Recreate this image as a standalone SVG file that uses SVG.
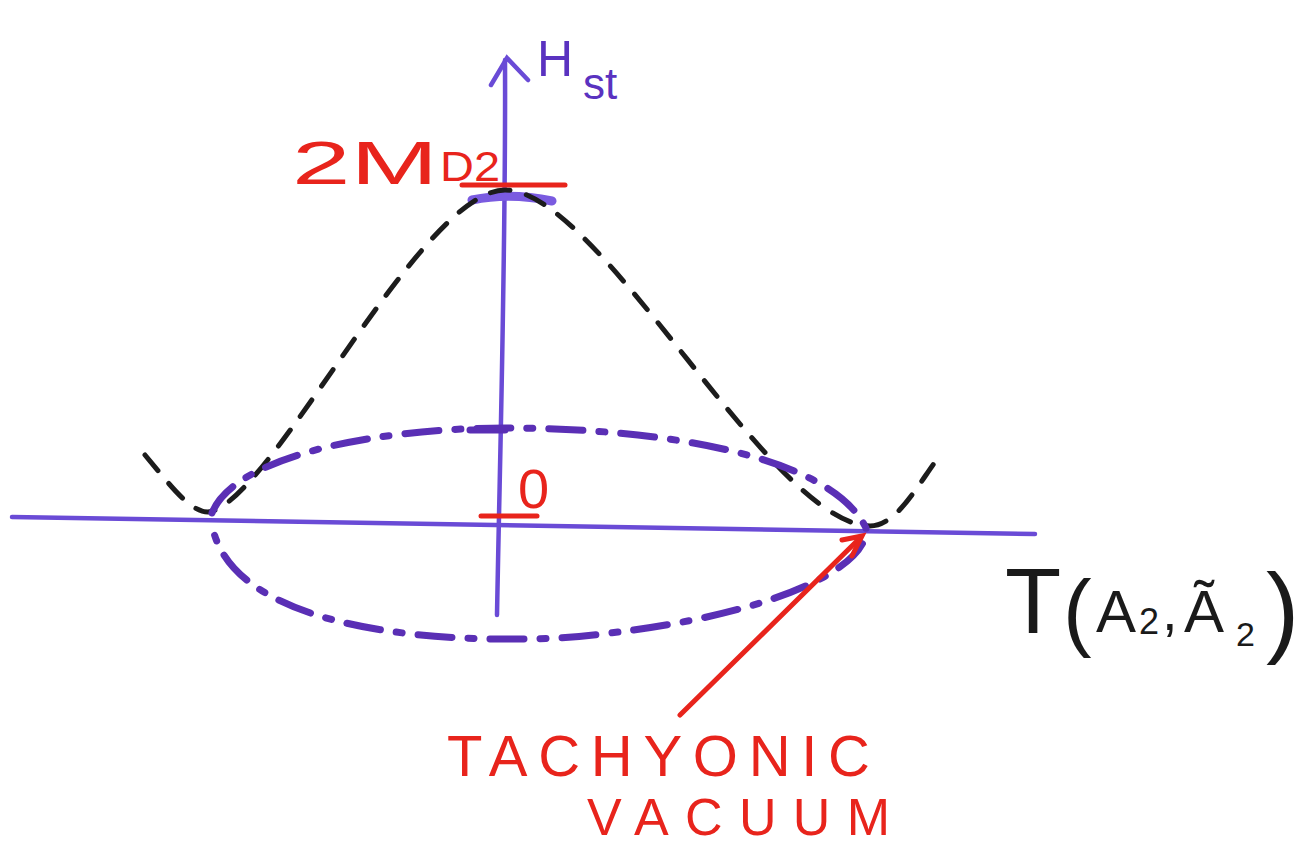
<svg xmlns="http://www.w3.org/2000/svg" width="1310" height="845" viewBox="0 0 1310 845">
<defs>
<style>
.axis{stroke:#6a4bd6;stroke-width:4.5;fill:none;stroke-linecap:round}
.pot{stroke:#1c1c1c;stroke-width:5;fill:none;stroke-dasharray:20 17;stroke-linecap:round}
.vac{stroke:#5a2fb5;stroke-width:7;fill:none;stroke-dasharray:34 16 6 16;stroke-linecap:round}
.red{stroke:#e8241c;stroke-width:5;fill:none;stroke-linecap:round}
.rt{fill:#e8241c;font-family:"Liberation Sans",Arial,sans-serif}
.pt{fill:#5a32c0;font-family:"Liberation Sans",Arial,sans-serif}
.bt{fill:#1a1a1a;font-family:"Liberation Sans",Arial,sans-serif}
</style>
</defs>
<rect width="1310" height="845" fill="#ffffff"/>
<g id="connectors">
<g id="axes">
<path class="axis" d="M12,517 L1035,534"/>
<path class="axis" d="M497,615 C500,450 506,250 505,60"/>
<path class="axis" d="M491,85 L507,58 L528,80"/>
<path d="M472,200 Q510,192 552,201" stroke="#7a5be0" stroke-width="9" fill="none" stroke-linecap="round"/>
<path d="M470,430 L505,430" stroke="#5a2fb5" stroke-width="7" stroke-linecap="round"/>
</g>
<path id="potential" class="pot" d="M145,455 C170,485 190,512 208,512 C270,505 420,190 505,190 C600,190 770,524 870,526 C895,526 915,490 935,462"/>
<path id="vacuum-curve" class="vac" d="M212,513 C235,455 380,428 505,428 C660,428 830,455 866,528 C870,570 760,622 560,638 C400,645 230,620 212,525"/>
<g id="ticks">
<path class="red" d="M462,185 L565,185"/>
<path class="red" d="M481,516 L537,516"/>
</g>
<path id="arrow" class="red" d="M680,715 L858,540"/>
<path d="M842,540 L862,536 L852,556" class="red" stroke-width="6"/>
</g>
<g id="label-H">
<text class="pt" x="537" y="76" font-size="50">H</text>
<text class="pt" x="583" y="99" font-size="44">st</text>
</g>
<g id="label-2MD2">
<text class="rt" x="292" y="184" font-size="62" textLength="146" lengthAdjust="spacingAndGlyphs">2M</text>
<text class="rt" x="440" y="181" font-size="42" textLength="60" lengthAdjust="spacingAndGlyphs">D2</text>
</g>
<g id="label-0">
<text class="rt" x="518" y="508" font-size="56">0</text>
</g>
<g id="label-T">
<text class="bt" x="1005" y="633" font-size="92">T</text>
<text class="bt" x="1063" y="640" font-size="86">(</text>
<text class="bt" x="1096" y="632" font-size="60">A</text>
<text class="bt" x="1139" y="634" font-size="36">2</text>
<text class="bt" x="1162" y="630" font-size="56">,</text>
<text class="bt" x="1184" y="632" font-size="60">Ã</text>
<text class="bt" x="1236" y="646" font-size="34">2</text>
<text class="bt" x="1266" y="644" font-size="100">)</text>
</g>
<g id="label-tachyonic">
<text class="rt" x="447" y="776" font-size="58" textLength="423" lengthAdjust="spacing">TACHYONIC</text>
<text class="rt" x="587" y="835" font-size="52" textLength="303" lengthAdjust="spacing">VACUUM</text>
</g>
</svg>
